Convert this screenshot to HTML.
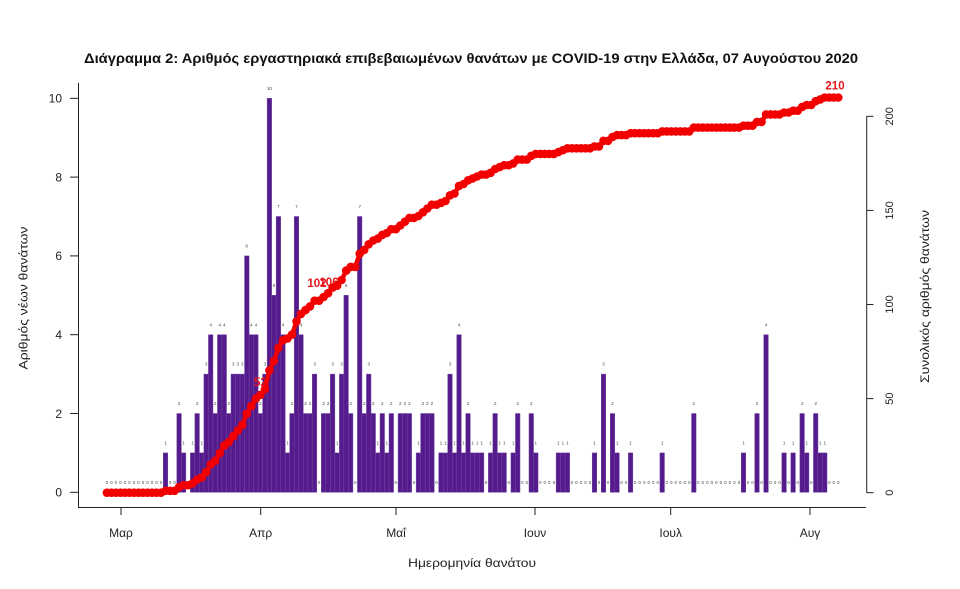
<!DOCTYPE html>
<html><head><meta charset="utf-8"><style>
html,body{margin:0;padding:0;background:#fff;}
svg{display:block;font-family:"Liberation Sans","DejaVu Sans",sans-serif;}
</style></head><body>
<svg width="960" height="589" viewBox="0 0 960 589" xmlns="http://www.w3.org/2000/svg">
<rect width="960" height="589" fill="#fff"/>
<text x="471" y="63" font-size="13.5" font-weight="bold" text-anchor="middle" textLength="774" lengthAdjust="spacingAndGlyphs" fill="#111">Διάγραμμα 2: Αριθμός εργαστηριακά επιβεβαιωμένων θανάτων με COVID-19 στην Ελλάδα, 07 Αυγούστου 2020</text>

<!-- bars -->
<g transform="translate(104.6 492.3) scale(4.515 -39.4)" fill="#551A8B" stroke="#6e46a2" stroke-width="0.5" vector-effect="non-scaling-stroke">
<rect x="13" y="0" width="1" height="1" vector-effect="non-scaling-stroke"/>
<rect x="16" y="0" width="1" height="2" vector-effect="non-scaling-stroke"/>
<rect x="17" y="0" width="1" height="1" vector-effect="non-scaling-stroke"/>
<rect x="19" y="0" width="1" height="1" vector-effect="non-scaling-stroke"/>
<rect x="20" y="0" width="1" height="2" vector-effect="non-scaling-stroke"/>
<rect x="21" y="0" width="1" height="1" vector-effect="non-scaling-stroke"/>
<rect x="22" y="0" width="1" height="3" vector-effect="non-scaling-stroke"/>
<rect x="23" y="0" width="1" height="4" vector-effect="non-scaling-stroke"/>
<rect x="24" y="0" width="1" height="2" vector-effect="non-scaling-stroke"/>
<rect x="25" y="0" width="1" height="4" vector-effect="non-scaling-stroke"/>
<rect x="26" y="0" width="1" height="4" vector-effect="non-scaling-stroke"/>
<rect x="27" y="0" width="1" height="2" vector-effect="non-scaling-stroke"/>
<rect x="28" y="0" width="1" height="3" vector-effect="non-scaling-stroke"/>
<rect x="29" y="0" width="1" height="3" vector-effect="non-scaling-stroke"/>
<rect x="30" y="0" width="1" height="3" vector-effect="non-scaling-stroke"/>
<rect x="31" y="0" width="1" height="6" vector-effect="non-scaling-stroke"/>
<rect x="32" y="0" width="1" height="4" vector-effect="non-scaling-stroke"/>
<rect x="33" y="0" width="1" height="4" vector-effect="non-scaling-stroke"/>
<rect x="34" y="0" width="1" height="2" vector-effect="non-scaling-stroke"/>
<rect x="35" y="0" width="1" height="3" vector-effect="non-scaling-stroke"/>
<rect x="36" y="0" width="1" height="10" vector-effect="non-scaling-stroke"/>
<rect x="37" y="0" width="1" height="5" vector-effect="non-scaling-stroke"/>
<rect x="38" y="0" width="1" height="7" vector-effect="non-scaling-stroke"/>
<rect x="39" y="0" width="1" height="4" vector-effect="non-scaling-stroke"/>
<rect x="40" y="0" width="1" height="1" vector-effect="non-scaling-stroke"/>
<rect x="41" y="0" width="1" height="2" vector-effect="non-scaling-stroke"/>
<rect x="42" y="0" width="1" height="7" vector-effect="non-scaling-stroke"/>
<rect x="43" y="0" width="1" height="4" vector-effect="non-scaling-stroke"/>
<rect x="44" y="0" width="1" height="2" vector-effect="non-scaling-stroke"/>
<rect x="45" y="0" width="1" height="2" vector-effect="non-scaling-stroke"/>
<rect x="46" y="0" width="1" height="3" vector-effect="non-scaling-stroke"/>
<rect x="48" y="0" width="1" height="2" vector-effect="non-scaling-stroke"/>
<rect x="49" y="0" width="1" height="2" vector-effect="non-scaling-stroke"/>
<rect x="50" y="0" width="1" height="3" vector-effect="non-scaling-stroke"/>
<rect x="51" y="0" width="1" height="1" vector-effect="non-scaling-stroke"/>
<rect x="52" y="0" width="1" height="3" vector-effect="non-scaling-stroke"/>
<rect x="53" y="0" width="1" height="5" vector-effect="non-scaling-stroke"/>
<rect x="54" y="0" width="1" height="2" vector-effect="non-scaling-stroke"/>
<rect x="56" y="0" width="1" height="7" vector-effect="non-scaling-stroke"/>
<rect x="57" y="0" width="1" height="2" vector-effect="non-scaling-stroke"/>
<rect x="58" y="0" width="1" height="3" vector-effect="non-scaling-stroke"/>
<rect x="59" y="0" width="1" height="2" vector-effect="non-scaling-stroke"/>
<rect x="60" y="0" width="1" height="1" vector-effect="non-scaling-stroke"/>
<rect x="61" y="0" width="1" height="2" vector-effect="non-scaling-stroke"/>
<rect x="62" y="0" width="1" height="1" vector-effect="non-scaling-stroke"/>
<rect x="63" y="0" width="1" height="2" vector-effect="non-scaling-stroke"/>
<rect x="65" y="0" width="1" height="2" vector-effect="non-scaling-stroke"/>
<rect x="66" y="0" width="1" height="2" vector-effect="non-scaling-stroke"/>
<rect x="67" y="0" width="1" height="2" vector-effect="non-scaling-stroke"/>
<rect x="69" y="0" width="1" height="1" vector-effect="non-scaling-stroke"/>
<rect x="70" y="0" width="1" height="2" vector-effect="non-scaling-stroke"/>
<rect x="71" y="0" width="1" height="2" vector-effect="non-scaling-stroke"/>
<rect x="72" y="0" width="1" height="2" vector-effect="non-scaling-stroke"/>
<rect x="74" y="0" width="1" height="1" vector-effect="non-scaling-stroke"/>
<rect x="75" y="0" width="1" height="1" vector-effect="non-scaling-stroke"/>
<rect x="76" y="0" width="1" height="3" vector-effect="non-scaling-stroke"/>
<rect x="77" y="0" width="1" height="1" vector-effect="non-scaling-stroke"/>
<rect x="78" y="0" width="1" height="4" vector-effect="non-scaling-stroke"/>
<rect x="79" y="0" width="1" height="1" vector-effect="non-scaling-stroke"/>
<rect x="80" y="0" width="1" height="2" vector-effect="non-scaling-stroke"/>
<rect x="81" y="0" width="1" height="1" vector-effect="non-scaling-stroke"/>
<rect x="82" y="0" width="1" height="1" vector-effect="non-scaling-stroke"/>
<rect x="83" y="0" width="1" height="1" vector-effect="non-scaling-stroke"/>
<rect x="85" y="0" width="1" height="1" vector-effect="non-scaling-stroke"/>
<rect x="86" y="0" width="1" height="2" vector-effect="non-scaling-stroke"/>
<rect x="87" y="0" width="1" height="1" vector-effect="non-scaling-stroke"/>
<rect x="88" y="0" width="1" height="1" vector-effect="non-scaling-stroke"/>
<rect x="90" y="0" width="1" height="1" vector-effect="non-scaling-stroke"/>
<rect x="91" y="0" width="1" height="2" vector-effect="non-scaling-stroke"/>
<rect x="94" y="0" width="1" height="2" vector-effect="non-scaling-stroke"/>
<rect x="95" y="0" width="1" height="1" vector-effect="non-scaling-stroke"/>
<rect x="100" y="0" width="1" height="1" vector-effect="non-scaling-stroke"/>
<rect x="101" y="0" width="1" height="1" vector-effect="non-scaling-stroke"/>
<rect x="102" y="0" width="1" height="1" vector-effect="non-scaling-stroke"/>
<rect x="108" y="0" width="1" height="1" vector-effect="non-scaling-stroke"/>
<rect x="110" y="0" width="1" height="3" vector-effect="non-scaling-stroke"/>
<rect x="112" y="0" width="1" height="2" vector-effect="non-scaling-stroke"/>
<rect x="113" y="0" width="1" height="1" vector-effect="non-scaling-stroke"/>
<rect x="116" y="0" width="1" height="1" vector-effect="non-scaling-stroke"/>
<rect x="123" y="0" width="1" height="1" vector-effect="non-scaling-stroke"/>
<rect x="130" y="0" width="1" height="2" vector-effect="non-scaling-stroke"/>
<rect x="141" y="0" width="1" height="1" vector-effect="non-scaling-stroke"/>
<rect x="144" y="0" width="1" height="2" vector-effect="non-scaling-stroke"/>
<rect x="146" y="0" width="1" height="4" vector-effect="non-scaling-stroke"/>
<rect x="150" y="0" width="1" height="1" vector-effect="non-scaling-stroke"/>
<rect x="152" y="0" width="1" height="1" vector-effect="non-scaling-stroke"/>
<rect x="154" y="0" width="1" height="2" vector-effect="non-scaling-stroke"/>
<rect x="155" y="0" width="1" height="1" vector-effect="non-scaling-stroke"/>
<rect x="157" y="0" width="1" height="2" vector-effect="non-scaling-stroke"/>
<rect x="158" y="0" width="1" height="1" vector-effect="non-scaling-stroke"/>
<rect x="159" y="0" width="1" height="1" vector-effect="non-scaling-stroke"/>
</g>

<!-- bar value labels -->
<g font-size="4.5" fill="#444" text-anchor="middle">
<text y="483.9" x="106.9 111.4 115.9 120.4 124.9 129.4 134.0 138.5 143.0 147.5 152.0 156.5 161.0 170.1 174.6 188.1 319.1 355.2 395.8 413.9 436.5 486.1 508.7 522.2 526.8 540.3 544.8 549.3 553.9 571.9 576.4 580.9 585.5 590.0 599.0 608.0 621.6 626.1 635.1 639.6 644.2 648.7 653.2 657.7 666.7 671.2 675.8 680.3 684.8 689.3 698.3 702.8 707.4 711.9 716.4 720.9 725.4 729.9 734.4 739.0 748.0 752.5 761.5 770.6 775.1 779.6 788.6 797.7 811.2 829.3 833.8 838.3">000000000000000000000000000000000000000000000000000000000000000000000000</text>
<text y="444.5" x="165.6 183.6 192.6 201.7 287.5 337.1 377.8 386.8 418.4 441.0 445.5 454.5 463.6 472.6 477.1 481.6 490.6 499.7 504.2 513.2 535.8 558.4 562.9 567.4 594.5 617.1 630.6 662.2 743.5 784.1 793.1 806.7 820.2 824.7">1111111111111111111111111111111111</text>
<text y="405.1" x="179.1 197.2 215.2 228.8 260.4 292.0 305.5 310.0 323.6 328.1 350.7 364.2 373.3 382.3 391.3 400.3 404.9 409.4 422.9 427.4 431.9 468.1 495.2 517.7 531.3 612.5 693.8 757.0 802.2 815.7">222222222222222222222222222222</text>
<text y="365.7" x="206.2 233.3 237.8 242.3 264.9 314.6 332.6 341.6 368.7 450.0 603.5">33333333333</text>
<text y="326.3" x="210.7 219.7 224.3 251.3 255.9 283.0 301.0 459.0 766.1">444444444</text>
<text y="286.9" x="273.9 346.2">55</text>
<text y="247.5" x="246.8">6</text>
<text y="208.1" x="278.4 296.5 359.7">777</text>
<text y="89.9" x="269.4">10</text>
</g>

<!-- red milestone labels -->
<g font-size="11.5" font-weight="bold" fill="#e3161c" text-anchor="middle">
<text x="260.4" y="386">52</text>
<text x="317" y="287">102</text>
<text x="329" y="286">106</text>
<text x="835" y="89.5">210</text>
</g>

<!-- cumulative line -->
<defs>
<marker id="dot" markerUnits="userSpaceOnUse" markerWidth="10" markerHeight="10" refX="5" refY="5" viewBox="0 0 10 10">
<circle cx="5" cy="5" r="4.3" fill="#f20000"/>
</marker>
</defs>
<polyline fill="none" stroke="#f20000" stroke-width="4.5" stroke-linejoin="round" marker-start="url(#dot)" marker-mid="url(#dot)" marker-end="url(#dot)" points="106.9,492.7 111.4,492.7 115.9,492.7 120.4,492.7 124.9,492.7 129.4,492.7 134.0,492.7 138.5,492.7 143.0,492.7 147.5,492.7 152.0,492.7 156.5,492.7 161.0,492.7 165.6,490.8 170.1,490.8 174.6,490.8 179.1,487.1 183.6,485.2 188.1,485.2 192.6,483.3 197.2,479.5 201.7,477.6 206.2,472.0 210.7,464.5 215.2,460.7 219.7,453.2 224.3,445.6 228.8,441.9 233.3,436.2 237.8,430.6 242.3,424.9 246.8,413.7 251.3,406.1 255.9,398.6 260.4,394.8 264.9,389.2 269.4,370.4 273.9,361.0 278.4,347.8 283.0,340.3 287.5,338.4 292.0,334.6 296.5,321.4 301.0,313.9 305.5,310.1 310.0,306.4 314.6,300.7 319.1,300.7 323.6,297.0 328.1,293.2 332.6,287.6 337.1,285.7 341.6,280.0 346.2,270.6 350.7,266.9 355.2,266.9 359.7,253.7 364.2,249.9 368.7,244.3 373.3,240.5 377.8,238.6 382.3,234.9 386.8,233.0 391.3,229.2 395.8,229.2 400.3,225.5 404.9,221.7 409.4,217.9 413.9,217.9 418.4,216.0 422.9,212.3 427.4,208.5 431.9,204.7 436.5,204.7 441.0,202.9 445.5,201.0 450.0,195.3 454.5,193.5 459.0,185.9 463.6,184.0 468.1,180.3 472.6,178.4 477.1,176.5 481.6,174.6 486.1,174.6 490.6,172.8 495.2,169.0 499.7,167.1 504.2,165.2 508.7,165.2 513.2,163.4 517.7,159.6 522.2,159.6 526.8,159.6 531.3,155.8 535.8,153.9 540.3,153.9 544.8,153.9 549.3,153.9 553.9,153.9 558.4,152.1 562.9,150.2 567.4,148.3 571.9,148.3 576.4,148.3 580.9,148.3 585.5,148.3 590.0,148.3 594.5,146.4 599.0,146.4 603.5,140.8 608.0,140.8 612.5,137.0 617.1,135.1 621.6,135.1 626.1,135.1 630.6,133.2 635.1,133.2 639.6,133.2 644.2,133.2 648.7,133.2 653.2,133.2 657.7,133.2 662.2,131.4 666.7,131.4 671.2,131.4 675.8,131.4 680.3,131.4 684.8,131.4 689.3,131.4 693.8,127.6 698.3,127.6 702.8,127.6 707.4,127.6 711.9,127.6 716.4,127.6 720.9,127.6 725.4,127.6 729.9,127.6 734.4,127.6 739.0,127.6 743.5,125.7 748.0,125.7 752.5,125.7 757.0,121.9 761.5,121.9 766.1,114.4 770.6,114.4 775.1,114.4 779.6,114.4 784.1,112.5 788.6,112.5 793.1,110.7 797.7,110.7 802.2,106.9 806.7,105.0 811.2,105.0 815.7,101.2 820.2,99.4 824.7,97.5 829.3,97.5 833.8,97.5 838.3,97.5"/>

<!-- frame / axes -->
<g stroke="#222" stroke-width="1" fill="none">
<polyline points="78.5,83 78.5,507.5 866,507.5"/>
<line x1="70" y1="492.3" x2="78.5" y2="492.3"/>
<line x1="70" y1="413.5" x2="78.5" y2="413.5"/>
<line x1="70" y1="334.7" x2="78.5" y2="334.7"/>
<line x1="70" y1="255.9" x2="78.5" y2="255.9"/>
<line x1="70" y1="177.1" x2="78.5" y2="177.1"/>
<line x1="70" y1="98.3" x2="78.5" y2="98.3"/>
<line x1="121" y1="507.5" x2="121" y2="515"/>
<line x1="260.7" y1="507.5" x2="260.7" y2="515"/>
<line x1="396" y1="507.5" x2="396" y2="515"/>
<line x1="535" y1="507.5" x2="535" y2="515"/>
<line x1="670.7" y1="507.5" x2="670.7" y2="515"/>
<line x1="810" y1="507.5" x2="810" y2="515"/>
<line x1="866.7" y1="116.3" x2="866.7" y2="492.7"/>
<line x1="866.7" y1="492.7" x2="873.5" y2="492.7"/>
<line x1="866.7" y1="398.6" x2="873.5" y2="398.6"/>
<line x1="866.7" y1="304.5" x2="873.5" y2="304.5"/>
<line x1="866.7" y1="210.4" x2="873.5" y2="210.4"/>
<line x1="866.7" y1="116.3" x2="873.5" y2="116.3"/>
</g>

<!-- left tick labels -->
<g font-size="12" fill="#222" text-anchor="end">
<text x="62" y="496.6">0</text>
<text x="62" y="417.8">2</text>
<text x="62" y="339">4</text>
<text x="62" y="260.2">6</text>
<text x="62" y="181.4">8</text>
<text x="62" y="102.6">10</text>
</g>

<!-- right tick labels -->
<g font-size="11" fill="#222" text-anchor="middle" dominant-baseline="central">
<text transform="translate(890 492.7) rotate(-90)">0</text>
<text transform="translate(890 398.6) rotate(-90)">50</text>
<text transform="translate(890 304.5) rotate(-90)">100</text>
<text transform="translate(890 210.4) rotate(-90)">150</text>
<text transform="translate(890 116.3) rotate(-90)">200</text>
</g>

<!-- x tick labels -->
<g font-size="12" fill="#222" text-anchor="middle">
<text x="121" y="537">Μαρ</text>
<text x="260.7" y="537">Απρ</text>
<text x="396" y="537">Μαΐ</text>
<text x="535" y="537">Ιουν</text>
<text x="670.7" y="537">Ιουλ</text>
<text x="810" y="537">Αυγ</text>
</g>

<!-- axis titles -->
<g font-size="12" fill="#222" text-anchor="middle">
<text x="472" y="567" textLength="128" lengthAdjust="spacingAndGlyphs">Ημερομηνία θανάτου</text>
<text transform="translate(23.3 298) rotate(-90)" dominant-baseline="central" textLength="143" lengthAdjust="spacingAndGlyphs">Αριθμός νέων θανάτων</text>
<text transform="translate(925 296.5) rotate(-90)" dominant-baseline="central" textLength="173" lengthAdjust="spacingAndGlyphs">Συνολικός αριθμός θανάτων</text>
</g>
</svg>
</body></html>
